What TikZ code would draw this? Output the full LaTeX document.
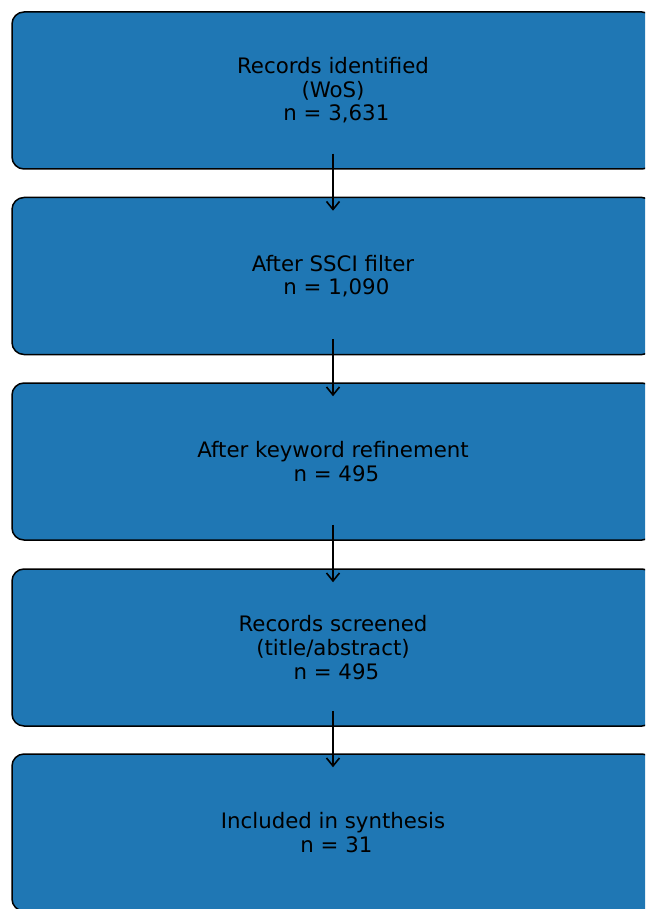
\documentclass[tikz,border=0pt]{standalone}
\usepackage{fontspec}
\setmainfont{DejaVu Sans}
\usetikzlibrary{arrows.meta}
\definecolor{boxblue}{HTML}{1F77B4}
\tikzset{
  flowbox/.style={rectangle, rounded corners=12pt, draw=black, line width=1.5pt,
    fill=boxblue, minimum width=642pt, minimum height=157pt, inner sep=0pt,
    align=center, text=black, font=\fontsize{21.3}{23.6}\selectfont},
  arr/.style={draw=black, line width=1.6pt, -{Straight Barb[length=8pt,width=13pt,line width=1.6pt]}}
}
\newcommand{\lsp}{\hspace*{0.318em}}
\begin{document}
\begin{tikzpicture}[x=1pt,y=-1pt]
\useasboundingbox (0,0) rectangle (645,909);
\clip (0,0) rectangle (645,909);
\node[flowbox] (b1) at (333,90.5) {Records identified\\(WoS)\\\lsp n = 3,631};
\node[flowbox] (b2) at (333,276) {After SSCI filter\\\lsp n = 1,090};
\node[flowbox] (b3) at (333,461.5) {After keyword refinement\\\lsp n = 495};
\node[flowbox] (b4) at (333,647.5) {Records screened\\(title/abstract)\\\lsp n = 495};
\node[flowbox] (b5) at (333,832.5) {Included in synthesis\\\lsp n = 31};
\draw[arr] ([yshift=16pt]b1.south) -- ([yshift=-14pt]b2.north);
\draw[arr] ([yshift=16pt]b2.south) -- ([yshift=-14pt]b3.north);
\draw[arr] ([yshift=16pt]b3.south) -- ([yshift=-14pt]b4.north);
\draw[arr] ([yshift=16pt]b4.south) -- ([yshift=-14pt]b5.north);
\end{tikzpicture}
\end{document}
